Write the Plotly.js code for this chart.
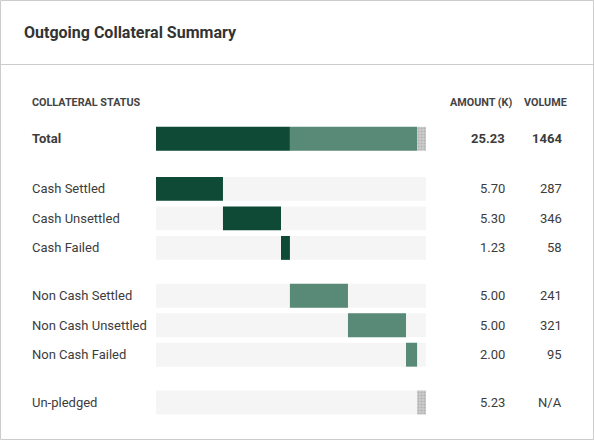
<!DOCTYPE html>
<html>
<head>
<meta charset="utf-8">
<script src="https://cdn.plot.ly/plotly-3.0.1.min.js"></script>
<style>
  html, body { margin: 0; padding: 0; background: #ffffff; }
  #chart { width: 594px; height: 440px; }
</style>
</head>
<body>
<div id="chart"></div>
<script>
// Collateral status rows (the Total row is drawn above them)
const statusLabels = ['Cash Settled', 'Cash Unsettled', 'Cash Failed',
                      'Non Cash Settled', 'Non Cash Unsettled', 'Non Cash Failed',
                      'Un-pledged'];
const statusGroup = ['cash', 'cash', 'cash', 'noncash', 'noncash', 'noncash', 'unpledged'];
const amountK = [5.70, 5.30, 1.23, 5.00, 5.00, 2.00, 5.23];
const volume = ['287', '346', '58', '241', '321', '95', 'N/A'];
// Share of the total collateral bar held by each status (%)
const barShare = [24.8, 21.5, 3.3, 21.5, 21.5, 4.1, 3.3];

const totalLabel = 'Total';
const totalAmountK = 25.23;
const totalVolume = 1464;

const headers = { status: 'COLLATERAL STATUS', amount: 'AMOUNT (K)', volume: 'VOLUME' };
const groups = ['cash', 'noncash', 'unpledged'];

// ---- layout geometry (pixels) ----
const W = 594, H = 440;
const plotL = 156, plotR = 426, plotT = 124, plotB = 418;
const rowPx = 29.5;                                        // vertical distance between rows
const groupGap = { cash: 0.7, noncash: 0.62, unpledged: 0.62 }; // extra space before each group, in rows

const FONT = 'Roboto, "Noto Sans", sans-serif';
const TEXT = '#3c3c3c';
const styles = {
  cash:      { color: '#0f4a37' },
  noncash:   { color: '#588a77' },
  unpledged: { color: '#cdcdcd',
               pattern: { shape: '.', bgcolor: '#cdcdcd', fgcolor: '#b2b2b2', size: 3, solidity: 0.4, fillmode: 'replace' } }
};

// Row positions: Total at 0, then status rows with a gap between groups
const rowPos = [];
let pos = 0, prev = 'total';
statusGroup.forEach(g => {
  pos += 1 + (g !== prev ? groupGap[g] : 0);
  rowPos.push(pos);
  prev = g;
});

// Cumulative bar starts
const starts = [];
let acc = 0;
barShare.forEach(s => { starts.push(acc); acc += s; });
const fullScale = acc;

const px2x = p => (p - plotL) / (plotR - plotL);
const px2y = p => (plotB - p) / (plotB - plotT);

const traces = [];
// light track behind every status row
traces.push({
  type: 'bar', orientation: 'h',
  y: rowPos, x: rowPos.map(() => fullScale), base: rowPos.map(() => 0),
  width: 0.81, marker: { color: '#f5f5f5' },
  hoverinfo: 'skip', showlegend: false
});

groups.forEach(g => {
  const idx = statusGroup.map((s, i) => s === g ? i : -1).filter(i => i >= 0);
  const gStart = starts[idx[0]];
  const gSum = idx.reduce((a, i) => a + barShare[i], 0);
  traces.push({
    type: 'bar', orientation: 'h',
    y: [0].concat(idx.map(i => rowPos[i])),
    x: [gSum].concat(idx.map(i => barShare[i])),
    base: [gStart].concat(idx.map(i => starts[i])),
    width: 0.81,
    marker: Object.assign({ line: { width: 0 } }, styles[g]),
    hoverinfo: 'skip', showlegend: false
  });
});

const annotations = [];
const amountRight = px2x(505), volumeRight = px2x(562), labelLeft = px2x(32);
const note = (xref, yref, x, y, text, anchor, font) => ({
  xref, yref, x, y, text, showarrow: false, xanchor: anchor, yanchor: 'middle',
  borderpad: 0, borderwidth: 0, font
});
function rowText(y, label, amt, vol, bold) {
  const f = { family: FONT, size: 13, color: TEXT, weight: bold ? 'bold' : 'normal' };
  annotations.push(note('paper', 'y', labelLeft, y, label, 'left', f));
  annotations.push(note('paper', 'y', amountRight, y, amt, 'right', f));
  annotations.push(note('paper', 'y', volumeRight, y, vol, 'right', f));
}
rowText(0, totalLabel, totalAmountK.toFixed(2), String(totalVolume), true);
statusLabels.forEach((lab, i) => rowText(rowPos[i], lab, amountK[i].toFixed(2), volume[i], false));

const hf = { family: FONT, size: 10.8, color: '#444444', weight: 'bold' };
const headerY = px2y(102.5);
annotations.push(note('paper', 'paper', labelLeft, headerY, headers.status, 'left', hf));
annotations.push(note('paper', 'paper', px2x(512), headerY, headers.amount, 'right', hf));
annotations.push(note('paper', 'paper', px2x(567), headerY, headers.volume, 'right', hf));

const shapes = [
  // card frame
  { type: 'rect', xref: 'paper', yref: 'paper', x0: px2x(0.5), x1: px2x(W - 0.5), y0: px2y(0.5), y1: px2y(H - 0.5),
    line: { color: '#cccccc', width: 1 }, fillcolor: 'rgba(0,0,0,0)', layer: 'below' },
  // divider under the card header
  { type: 'line', xref: 'paper', yref: 'paper', x0: px2x(0), x1: px2x(W), y0: px2y(64.5), y1: px2y(64.5),
    line: { color: '#cccccc', width: 1 } }
];

const span = (plotB - plotT) / rowPx;
const layout = {
  width: W, height: H,
  margin: { l: plotL, r: W - plotR, t: plotT, b: H - plotB, pad: 0, autoexpand: false },
  paper_bgcolor: '#ffffff', plot_bgcolor: '#ffffff',
  title: {
    text: 'Outgoing Collateral Summary',
    xref: 'container', yref: 'container', x: 24 / W, y: 1 - 32 / H,
    xanchor: 'left', yanchor: 'middle',
    font: { family: FONT, size: 16, color: '#333333', weight: 'bold' }
  },
  barmode: 'overlay',
  xaxis: { range: [0, fullScale], visible: false, fixedrange: true },
  yaxis: { range: [-0.5 + span, -0.5], visible: false, fixedrange: true },
  showlegend: false,
  annotations: annotations,
  shapes: shapes
};

Plotly.newPlot('chart', traces, layout, { displayModeBar: false, staticPlot: true });
</script>
</body>
</html>
